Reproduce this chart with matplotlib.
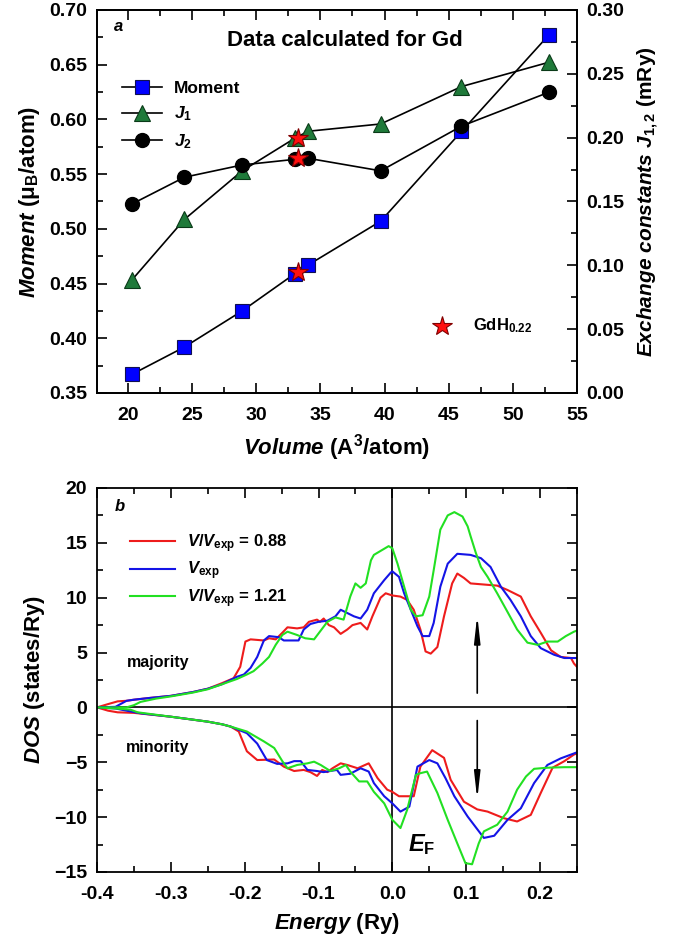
import matplotlib
matplotlib.use('Agg')
import matplotlib.pyplot as plt
from matplotlib.ticker import MultipleLocator

plt.rcParams['font.family'] = ['Liberation Sans', 'DejaVu Sans']
plt.rcParams['font.weight'] = 'bold'
plt.rcParams['axes.labelweight'] = 'bold'
plt.rcParams['mathtext.fontset'] = 'custom'
plt.rcParams['mathtext.rm'] = 'Liberation Sans:bold'
plt.rcParams['mathtext.it'] = 'Liberation Sans:italic:bold'
plt.rcParams['mathtext.bf'] = 'Liberation Sans:bold'

# panel a: values
volume = [20.3, 24.4, 28.9, 33.0, 34.05, 39.7, 46.0, 52.8]
moment = [0.367, 0.392, 0.425, 0.459, 0.467, 0.507, 0.589, 0.677]
j1 = [0.0885, 0.136, 0.174, 0.1995, 0.205, 0.2107, 0.240, 0.259]
j2 = [0.148, 0.169, 0.1786, 0.183, 0.1838, 0.174, 0.209, 0.2355]
gdh_volume = 33.27
gdh_moment = 0.461
gdh_j1 = 0.200
gdh_j2 = 0.184

# panel b: DOS curves, majority (positive) and minority (negative)
red_maj_e = [-0.4, -0.385, -0.372, -0.36, -0.35, -0.33, -0.3, -0.27, -0.25, -0.231, -0.215, -0.206,
             -0.199, -0.192, -0.174, -0.167, -0.158, -0.149, -0.142, -0.129, -0.120, -0.113, -0.102,
             -0.098, -0.093, -0.086, -0.079, -0.070, -0.061, -0.054, -0.043, -0.034, -0.027, -0.016,
             -0.009, 0.0, 0.011, 0.020, 0.029, 0.038, 0.045, 0.052, 0.061, 0.070, 0.081, 0.088, 0.097,
             0.106, 0.124, 0.142, 0.156, 0.174, 0.1875, 0.201, 0.215, 0.228, 0.242, 0.246, 0.25]
red_maj_dos = [0, 0.3, 0.55, 0.6, 0.7, 0.85, 1.05, 1.4, 1.7, 2.2, 2.66, 3.7,
               6.0, 6.2, 6.1, 6.3, 6.2, 6.8, 7.3, 7.2, 7.3, 7.8, 8.0,
               7.8, 8.1, 7.5, 7.3, 6.7, 7.1, 7.5, 7.7, 7.1, 8.3, 10.0,
               10.4, 10.2, 10.1, 9.8, 8.9, 7.1, 5.1, 4.9, 5.5, 8.3, 11.3, 12.2, 11.8,
               11.3, 11.2, 11.1, 10.7, 10.1, 8.3, 6.8, 5.2, 4.6, 4.5, 4.0, 3.7]

blue_maj_e = [-0.4, -0.375, -0.36, -0.35, -0.33, -0.3, -0.27, -0.25, -0.231, -0.210, -0.201, -0.192,
              -0.183, -0.174, -0.167, -0.154, -0.147, -0.127, -0.120, -0.111, -0.100, -0.088, -0.077,
              -0.070, -0.061, -0.052, -0.043, -0.034, -0.025, -0.011, -0.002, 0.0, 0.009, 0.016,
              0.025, 0.034, 0.041, 0.050, 0.056, 0.065, 0.075, 0.088, 0.106, 0.120, 0.133, 0.147,
              0.160, 0.174, 0.1875, 0.201, 0.219, 0.233, 0.246, 0.25]
blue_maj_dos = [0, 0.05, 0.6, 0.7, 0.85, 1.05, 1.4, 1.7, 2.1, 2.8, 3.0, 3.6,
                4.6, 6.1, 6.5, 6.4, 6.1, 6.1, 7.1, 7.6, 7.8, 7.9, 8.3,
                8.9, 8.6, 8.3, 8.1, 8.9, 10.4, 11.6, 12.3, 12.4, 11.9, 10.4,
                8.9, 7.4, 6.5, 6.5, 7.7, 11.0, 13.1, 14.0, 13.9, 13.6, 12.8, 11.0,
                9.8, 8.3, 6.5, 5.4, 4.8, 4.5, 4.5, 4.5]

green_maj_e = [-0.4, -0.36, -0.35, -0.341, -0.32, -0.3, -0.27, -0.25, -0.231, -0.210, -0.197, -0.188,
               -0.176, -0.167, -0.158, -0.149, -0.142, -0.129, -0.118, -0.106, -0.097, -0.088,
               -0.077, -0.066, -0.057, -0.050, -0.043, -0.036, -0.029, -0.025, -0.005, 0.0, 0.007,
               0.016, 0.025, 0.032, 0.041, 0.050, 0.056, 0.065, 0.075, 0.084, 0.095, 0.102, 0.106,
               0.113, 0.120, 0.129, 0.142, 0.156, 0.169, 0.183, 0.197, 0.210, 0.224, 0.235, 0.246, 0.25]
green_maj_dos = [0, 0.0, 0.2, 0.5, 0.8, 1.0, 1.35, 1.65, 2.1, 2.6, 3.0, 3.3,
                 4.0, 4.6, 5.7, 6.6, 6.9, 6.6, 6.3, 6.2, 7.0, 7.8,
                 8.2, 8.0, 10.1, 11.3, 10.9, 11.3, 13.4, 13.9, 14.7, 14.5, 13.1,
                 11.0, 8.9, 8.3, 8.4, 10.1, 12.5, 16.2, 17.5, 17.8, 17.4, 16.5, 15.6,
                 14.1, 12.8, 11.9, 10.4, 8.7, 7.1, 5.9, 5.7, 6.0, 6.0, 6.5, 6.9, 7.0]

red_min_e = [-0.4, -0.385, -0.372, -0.35, -0.3, -0.25, -0.23, -0.219, -0.208, -0.197, -0.183,
             -0.160, -0.147, -0.133, -0.120, -0.111, -0.102, -0.095, -0.088, -0.081, -0.070,
             -0.061, -0.047, -0.032, -0.020, -0.007, 0.0, 0.009, 0.016, 0.029, 0.038, 0.054,
             0.070, 0.079, 0.097, 0.115, 0.129, 0.151, 0.169, 0.1875, 0.201, 0.217, 0.233, 0.246, 0.25]
red_min_dos = [0, -0.3, -0.45, -0.5, -0.85, -1.3, -1.55, -1.75, -2.2, -4.0, -4.8,
               -4.75, -5.4, -5.8, -5.7, -5.9, -6.25, -5.7, -5.9, -5.55, -5.1,
               -5.25, -5.55, -5.1, -6.45, -7.5, -7.7, -8.1, -8.1, -8.1, -5.4, -3.9,
               -4.6, -6.6, -8.6, -9.3, -9.5, -10.1, -10.4, -9.8, -7.8, -5.5, -4.9, -4.3, -4.2]

blue_min_e = [-0.4, -0.375, -0.36, -0.34, -0.3, -0.25, -0.23, -0.219, -0.197, -0.183, -0.170,
              -0.156, -0.142, -0.133, -0.124, -0.115, -0.102, -0.093, -0.075, -0.070, -0.057,
              -0.043, -0.032, -0.025, -0.011, 0.0, 0.011, 0.023, 0.034, 0.050, 0.061, 0.072,
              0.084, 0.102, 0.124, 0.138, 0.156, 0.174, 0.192, 0.210, 0.228, 0.246, 0.25]
blue_min_dos = [0, -0.1, -0.3, -0.55, -0.85, -1.3, -1.55, -1.75, -2.35, -3.3, -4.8,
                -5.15, -5.1, -4.9, -4.9, -5.7, -5.8, -5.9, -5.7, -6.15, -6.05,
                -5.55, -5.85, -6.9, -8.1, -8.75, -9.5, -9.05, -5.4, -4.8, -5.1, -6.45,
                -8.1, -9.95, -11.9, -11.7, -10.25, -9.2, -6.9, -5.25, -4.65, -4.2, -4.1]

green_min_e = [-0.4, -0.375, -0.355, -0.345, -0.3, -0.25, -0.23, -0.219, -0.197, -0.174, -0.160,
               -0.149, -0.142, -0.129, -0.115, -0.106, -0.097, -0.084, -0.072, -0.063, -0.057,
               -0.045, -0.034, -0.025, -0.011, 0.0, 0.011, 0.020, 0.032, 0.038, 0.047, 0.061,
               0.075, 0.088, 0.099, 0.108, 0.117, 0.124, 0.142, 0.156, 0.169, 0.181, 0.192, 0.210,
               0.233, 0.25]
green_min_dos = [0, -0.1, -0.2, -0.45, -0.85, -1.3, -1.55, -1.75, -2.2, -3.1, -3.7,
                 -4.9, -5.55, -5.25, -5.1, -4.95, -5.25, -5.8, -5.55, -5.25, -5.85,
                 -6.75, -6.75, -7.7, -8.75, -10.25, -11.0, -9.35, -6.15, -6.0, -5.85, -7.8,
                 -10.25, -12.4, -14.2, -14.3, -12.4, -11.3, -10.7, -9.5, -7.5, -6.3, -5.6, -5.5,
                 -5.45, -5.45]

red = '#ee1c1c'
blue = '#1414e6'
green = '#22e022'

fig = plt.figure(figsize=(6.75, 9.49), dpi=100)

# ---- panel a ----
ax = fig.add_axes([0.1437, 0.5859, 0.711, 0.4036])
ax2 = ax.twinx()

ax.plot(volume, moment, '-', color='black', lw=1.2, marker='s', ms=10,
        mfc='#0000ff', mec='#101050', mew=0.8, label='Moment')
ax2.plot(volume, j1, '-', color='black', lw=1.2, marker='^', ms=11,
         mfc='#1f7a3a', mec='#0a3a18', mew=0.8, label=r'$J_1$')
ax2.plot(volume, j2, '-', color='black', lw=1.2, marker='o', ms=10,
         mfc='black', mec='black', label=r'$J_2$')

star = dict(marker='*', ms=15, mfc='#ff1010', mec='#800000', mew=0.8, ls='none', zorder=5)
ax.plot([gdh_volume], [gdh_moment], **star)
ax2.plot([gdh_volume, gdh_volume], [gdh_j1, gdh_j2], **star)
ax2.plot([44.5], [0.0527], **star)
ax2.text(46.9, 0.0527, r'GdH$_{0.22}$', fontsize=12, va='center', ha='left')

ax.set_xlim(17.58, 55)
ax.set_ylim(0.35, 0.70)
ax2.set_ylim(0.0, 0.30)
ax.xaxis.set_major_locator(MultipleLocator(5))
ax.xaxis.set_minor_locator(MultipleLocator(2.5))
ax.yaxis.set_major_locator(MultipleLocator(0.05))
ax.yaxis.set_minor_locator(MultipleLocator(0.025))
ax2.yaxis.set_major_locator(MultipleLocator(0.05))
ax2.yaxis.set_minor_locator(MultipleLocator(0.025))
ax.yaxis.set_major_formatter(lambda v, p: f'{v:.2f}')
ax2.yaxis.set_major_formatter(lambda v, p: f'{v:.2f}')

ax.tick_params(which='both', direction='in', top=True, right=False, labelsize=14, width=1.2)
ax.tick_params(which='major', length=7, pad=7)
ax.tick_params(which='minor', length=4)
ax.tick_params(axis='x', pad=10)
ax2.tick_params(which='both', direction='in', labelsize=14, width=1.2)
ax2.tick_params(which='major', length=7, pad=7)
ax2.tick_params(which='minor', length=4)
for a in (ax, ax2):
    for s in a.spines.values():
        s.set_linewidth(1.3)

ax.set_xlabel(r'$\mathit{Volume}$ (A$^3$/atom)', fontsize=16, labelpad=6)
ax.set_ylabel(r'$\mathit{Moment}$ ($\mathrm{\mu_B}$/atom)', fontsize=16, labelpad=5)
ax2.set_ylabel(r'$\mathit{Exchange\ constants\ J}_{1,2}$ (mRy)', fontsize=15, labelpad=8)

ax.text(0.035, 0.956, 'a', transform=ax.transAxes, fontsize=12, style='italic',
        ha='left', va='center')
ax.text(0.517, 0.92, 'Data calculated for Gd', transform=ax.transAxes, fontsize=16,
        ha='center', va='center')

h1, l1 = ax.get_legend_handles_labels()
h2, l2 = ax2.get_legend_handles_labels()
ax2.legend(h1 + h2, l1 + l2, loc='upper left', bbox_to_anchor=(0.052, 0.815),
           frameon=False, fontsize=12.5, borderpad=0, borderaxespad=0,
           handlelength=2.3, handletextpad=0.7, labelspacing=0.5)

# ---- panel b ----
bx = fig.add_axes([0.1437, 0.0812, 0.711, 0.4046])
bx.axhline(0, color='black', lw=1.2)
bx.axvline(0, color='black', lw=1.2)

bx.plot(red_maj_e, red_maj_dos, color=red, lw=1.5, label=r'$V/V_{\mathrm{exp}}$ = 0.88')
bx.plot(blue_maj_e, blue_maj_dos, color=blue, lw=1.5, label=r'$V_{\mathrm{exp}}$')
bx.plot(green_maj_e, green_maj_dos, color=green, lw=1.5, label=r'$V/V_{\mathrm{exp}}$ = 1.21')
bx.plot(red_min_e, red_min_dos, color=red, lw=1.5)
bx.plot(blue_min_e, blue_min_dos, color=blue, lw=1.5)
bx.plot(green_min_e, green_min_dos, color=green, lw=1.5)

arrow = dict(arrowstyle='-|>,head_length=1.6,head_width=0.18', color='black', lw=1.2,
             shrinkA=0, shrinkB=0)
bx.annotate('', xy=(0.115, 8.4), xytext=(0.115, 1.3), arrowprops=arrow)
bx.annotate('', xy=(0.115, -8.4), xytext=(0.115, -1.2), arrowprops=arrow)

bx.text(-0.359, 4.05, 'majority', fontsize=11.5, ha='left', va='center')
bx.text(-0.3615, -3.7, 'minority', fontsize=11.5, ha='left', va='center')
bx.text(0.021, -12.5, r'$\mathit{E}_{\mathrm{F}}$', fontsize=17, ha='left', va='center')
bx.text(-0.3766, 18.3, 'b', fontsize=12, style='italic', ha='left', va='center')

bx.set_xlim(-0.4, 0.25)
bx.set_ylim(-15, 20)
bx.xaxis.set_major_locator(MultipleLocator(0.1))
bx.xaxis.set_minor_locator(MultipleLocator(0.05))
bx.yaxis.set_major_locator(MultipleLocator(5))
bx.yaxis.set_minor_locator(MultipleLocator(2.5))
bx.xaxis.set_major_formatter(lambda v, p: f'{v:.1f}')
bx.tick_params(which='both', direction='in', top=True, right=True, labelsize=14, width=1.2)
bx.tick_params(which='major', length=7, pad=7)
bx.tick_params(which='minor', length=4)
bx.tick_params(axis='x', pad=10)
for s in bx.spines.values():
    s.set_linewidth(1.3)

bx.set_xlabel(r'$\mathit{Energy}$ (Ry)', fontsize=16, labelpad=6)
bx.set_ylabel(r'$\mathit{DOS}$ (states/Ry)', fontsize=16, labelpad=5)

bx.legend(loc='upper left', bbox_to_anchor=(0.069, 0.885), frameon=False, fontsize=12,
          borderpad=0, borderaxespad=0, handlelength=2.7, handletextpad=0.7, labelspacing=0.3)

fig.savefig('out.png', dpi=100)
